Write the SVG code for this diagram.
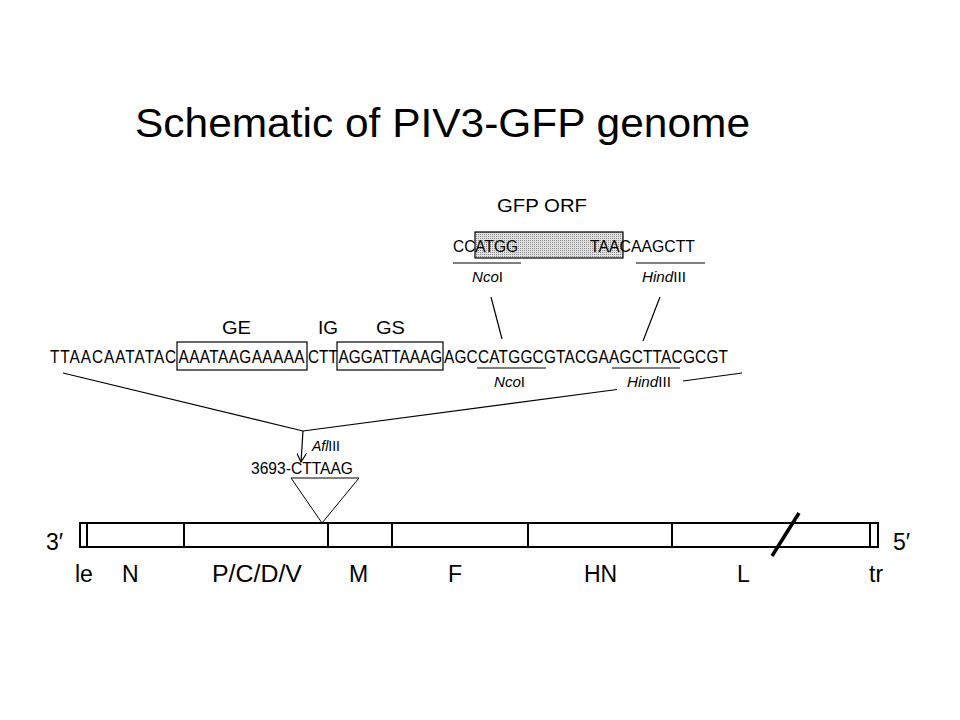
<svg xmlns="http://www.w3.org/2000/svg" width="960" height="720" viewBox="0 0 960 720">
<style>
text{font-family:"Liberation Sans",Arial,sans-serif;fill:#000}
.seq{font-size:19px}
.gseq{font-size:17px}
.lab{font-size:19px}
.enz{font-size:15px}
.gl{font-size:23px}
.thin{stroke:#000;stroke-width:1.2;fill:none}
.bar{stroke:#000;stroke-width:2;fill:none}
</style>
<defs>
<pattern id="dots" width="2" height="2" patternUnits="userSpaceOnUse">
<rect width="2" height="2" fill="#e2e2e2"/>
<rect width="1" height="1" fill="#8a8a8a"/>
</pattern>
<marker id="arr" viewBox="0 0 10 10" refX="9" refY="5" markerWidth="10" markerHeight="10" markerUnits="userSpaceOnUse" orient="auto">
<path d="M0,0 L9,5 L0,10" fill="none" stroke="#000" stroke-width="1.2"/>
</marker>
</defs>
<rect width="960" height="720" fill="#fff"/>

<g id="title">
<text x="135" y="137" font-size="41" textLength="615" lengthAdjust="spacingAndGlyphs">Schematic of PIV3-GFP genome</text>
</g>

<g id="gfp-orf">
<text class="lab" x="497" y="212" textLength="90" lengthAdjust="spacingAndGlyphs">GFP ORF</text>
<rect x="475" y="232" width="148" height="26" fill="url(#dots)" stroke="#000" stroke-width="1.2"/>
<text class="gseq" x="453" y="252" textLength="65" lengthAdjust="spacingAndGlyphs">CCATGG</text>
<text class="gseq" x="590" y="252" textLength="105" lengthAdjust="spacingAndGlyphs">TAACAAGCTT</text>
<line class="thin" x1="453" y1="263" x2="521" y2="263"/>
<line class="thin" x1="636" y1="263" x2="705" y2="263"/>
<text class="enz" x="472" y="282" textLength="31" lengthAdjust="spacingAndGlyphs"><tspan font-style="italic">Nco</tspan>I</text>
<text class="enz" x="642" y="282" textLength="44" lengthAdjust="spacingAndGlyphs"><tspan font-style="italic">Hind</tspan>III</text>
</g>

<g id="insert-sequence">
<text class="lab" x="222" y="334" textLength="29" lengthAdjust="spacingAndGlyphs">GE</text>
<text class="lab" x="318" y="334" textLength="20" lengthAdjust="spacingAndGlyphs">IG</text>
<text class="lab" x="376" y="334" textLength="29" lengthAdjust="spacingAndGlyphs">GS</text>
<rect x="177" y="342" width="130" height="28" fill="none" stroke="#000" stroke-width="1.2"/>
<rect x="337" y="342" width="106" height="28" fill="none" stroke="#000" stroke-width="1.2"/>
<text class="seq" y="363" transform="scale(0.81,1)"><tspan x="61.7" letter-spacing="1.2">TTAACAATATAC</tspan><tspan x="220.4" letter-spacing="0.5">AAATAAGAAAAA</tspan><tspan x="380.2" letter-spacing="0">CTT</tspan><tspan x="417.9">AGGATTAAAG</tspan><tspan x="548.1" letter-spacing="0.28">AGCCATGGCGTACGAAGCTTACGCGT</tspan></text>
<line class="thin" x1="477" y1="368" x2="546" y2="368"/>
<line class="thin" x1="612" y1="368" x2="680" y2="368"/>
<text class="enz" x="494" y="387" textLength="31" lengthAdjust="spacingAndGlyphs"><tspan font-style="italic">Nco</tspan>I</text>
<text class="enz" x="627" y="387" textLength="44" lengthAdjust="spacingAndGlyphs"><tspan font-style="italic">Hind</tspan>III</text>
</g>

<g id="insertion-site">
<text class="enz" x="312" y="451" textLength="28" lengthAdjust="spacingAndGlyphs"><tspan font-style="italic">Afl</tspan>III</text>
<text x="251" y="474" font-size="16" textLength="102" lengthAdjust="spacingAndGlyphs">3693-CTTAAG</text>
<polygon points="291,478 359,478 322,523" fill="none" stroke="#000" stroke-width="1"/>
</g>

<g id="genome">
<rect x="80" y="523" width="798" height="24" class="bar"/>
<line class="bar" x1="87" y1="523" x2="87" y2="547"/>
<line class="bar" x1="184" y1="523" x2="184" y2="547"/>
<line class="bar" x1="328" y1="523" x2="328" y2="547"/>
<line class="bar" x1="392" y1="523" x2="392" y2="547"/>
<line class="bar" x1="528" y1="523" x2="528" y2="547"/>
<line class="bar" x1="672" y1="523" x2="672" y2="547"/>
<line class="bar" x1="870" y1="523" x2="870" y2="547"/>
<line x1="772" y1="556" x2="799" y2="513" stroke="#000" stroke-width="3.5"/>
<text class="gl" x="46" y="550">3′</text>
<text class="gl" x="893" y="550">5′</text>
<text class="gl" x="75" y="582">le</text>
<text class="gl" x="122" y="582">N</text>
<text class="gl" x="212" y="582" textLength="90" lengthAdjust="spacingAndGlyphs">P/C/D/V</text>
<text class="gl" x="349" y="582">M</text>
<text class="gl" x="448" y="582">F</text>
<text class="gl" x="584" y="582">HN</text>
<text class="gl" x="737" y="582">L</text>
<text class="gl" x="869" y="582">tr</text>
</g>

<g id="connectors">
<line class="thin" x1="491" y1="297" x2="502" y2="339"/>
<line class="thin" x1="660" y1="297" x2="643" y2="341"/>
<line class="thin" x1="63" y1="373" x2="303" y2="431"/>
<line class="thin" x1="742" y1="373" x2="683" y2="381"/>
<line class="thin" x1="617" y1="389.5" x2="303" y2="431"/>
<line class="thin" x1="303" y1="431" x2="301" y2="462" marker-end="url(#arr)"/>
</g>
</svg>
